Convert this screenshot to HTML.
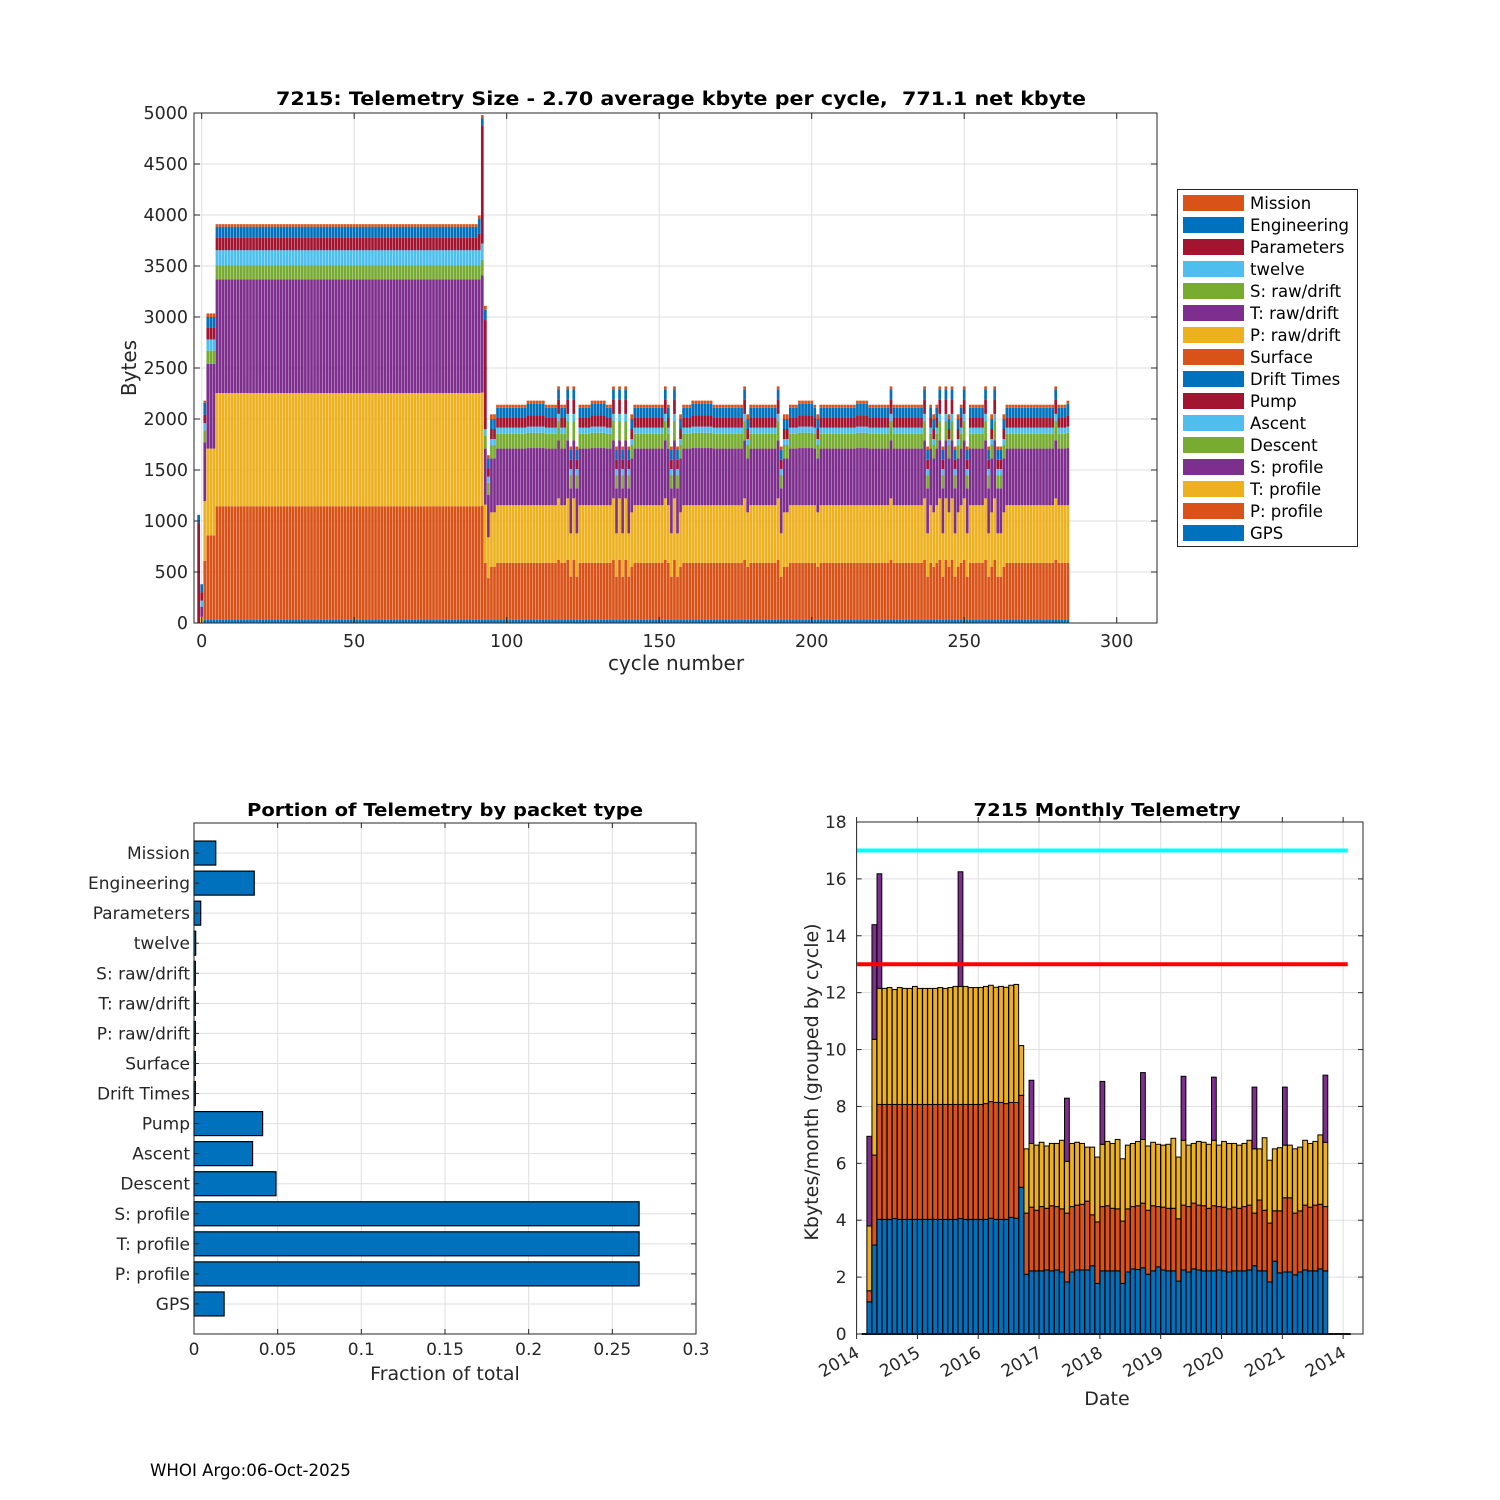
<!DOCTYPE html>
<html><head><meta charset="utf-8"><style>
html,body{margin:0;padding:0;background:#fff;}
svg{display:block;font-family:"DejaVu Sans","Liberation Sans",sans-serif;}
</style></head><body>
<svg id="fig" width="1500" height="1500" viewBox="0 0 1500 1500" xmlns="http://www.w3.org/2000/svg">
<rect x="0" y="0" width="1500" height="1500" fill="#fff"/>
<g id="top"></g>
<g id="legend"></g>
<g id="bl"></g>
<g id="br"></g>
<text x="150" y="1476" font-size="16.6" fill="#000">WHOI Argo:06-Oct-2025</text>
</svg>
<script>
// ---------- top chart data ----------
const kinds = ['A','B','C','E','H','H2','X','Y','Z','N','M','S','D','L'];
const gpsBytes     = [0,0,30,30,30,30,30,30,30,30,30,30,30,30];
const pProfBytes   = [0,0,580,830,1115,1115,1120,560,410,560,560,588,424,522];
const tProfBytes   = [0,60,585,850,1110,1110,1110,570,400,565,565,604,425,533];
const sProfBytes   = [0,100,575,830,1115,1115,1150,550,415,555,560,568,441,529];
const descentBytes = [0,0,120,130,135,135,150,130,120,145,150,190,130,131];
const ascentBytes  = [0,60,70,110,150,150,160,60,60,60,60,70,60,59];
const pumpBytes    = [980,80,80,120,120,160,1160,1070,80,95,110,140,90,98];
const engBytes     = [80,80,120,100,110,150,70,100,100,100,115,100,100,98];
const missionBytes = [0,0,20,35,25,30,30,40,30,30,30,30,30,46];
const firstCycle = -1;
const kindRuns = [['A',1],['B',1],['C',1],['E',3],['H',86],['H2',1],['X',1],['Y',1],['Z',1],['L',2],['N',10],['M',6],['N',4],['S',1],['N',2],['S',1],['D',1],['S',1],['D',1],['N',4],['M',5],['N',2],['S',1],['D',1],['S',1],['D',1],['S',1],['D',1],['L',1],['N',10],['S',1],['N',1],['D',1],['S',1],['D',1],['L',1],['N',3],['M',7],['N',10],['S',1],['L',1],['N',9],['S',1],['D',1],['L',2],['N',3],['M',5],['N',1],['L',1],['N',12],['M',4],['N',7],['S',1],['N',10],['S',1],['D',1],['N',1],['L',1],['N',1],['S',1],['D',1],['S',1],['L',1],['S',1],['D',1],['L',1],['N',1],['S',1],['D',1],['N',5],['S',1],['D',1],['L',1],['S',1],['D',2],['L',1],['N',16],['S',1],['N',3],['M',1]];
const topYTicks = [0,500,1000,1500,2000,2500,3000,3500,4000,4500,5000];
const topXTicks = [0,50,100,150,200,250,300];
const legendLabels = ['Mission','Engineering','Parameters','twelve','S: raw/drift','T: raw/drift','P: raw/drift','Surface','Drift Times','Pump','Ascent','Descent','S: profile','T: profile','P: profile','GPS'];

// ---------- bottom-left data ----------
const portionLabels = ['Mission','Engineering','Parameters','twelve','S: raw/drift','T: raw/drift','P: raw/drift','Surface','Drift Times','Pump','Ascent','Descent','S: profile','T: profile','P: profile','GPS'];
const portionValues = [0.013,0.036,0.004,0.001,0.0008,0.0008,0.0008,0.0008,0.0008,0.041,0.035,0.049,0.266,0.266,0.266,0.018];
const portionTicks = [0,0.05,0.1,0.15,0.2,0.25,0.3];
const portionTickLabels = ['0','0.05','0.1','0.15','0.2','0.25','0.3'];

// ---------- bottom-right data ----------
const firstMonth = 2;
const monthGps = [1.13,3.13,4.03, 4.03,4.03,4.06,4.03,4.03,4.03,4.03,4.03,4.03,4.03,4.03,4.03,4.03,4.03,4.03,4.06,4.03,4.03,4.03,4.03, 4.03,4.07,4.03,4.03,4.03,4.10,4.07, 5.16,
 2.10,2.22,2.22,2.22,2.25,2.22,2.25,2.18,1.83,2.18,2.25,2.25,2.25,2.40,1.78,2.22,2.22,2.22,2.22,1.78,2.18,2.29,2.27,2.33,2.10,2.22,2.36,2.25,2.22,2.22,1.86,2.25,2.18,2.29,2.25,2.22,2.22,2.22,2.25,2.22,2.18,2.22,2.22,2.22,2.25,2.40,2.22,2.22,1.83,2.56,2.15,2.18,2.18,2.08,2.18,2.25,2.22,2.22,2.29,2.22];
const monthP = [0.39,3.16,4.04, 4.04,4.04,4.01,4.04,4.04,4.04,4.04,4.04,4.04,4.04,4.04,4.04,4.04,4.04,4.04,4.01,4.04,4.04,4.04,4.04, 4.07,4.10,4.11,4.11,4.07,4.04,4.07, 3.23,
 2.15,2.24,2.13,2.26,2.17,2.29,2.23,2.22,2.42,2.30,2.28,2.31,2.42,1.79,2.16,2.26,2.29,2.20,2.18,2.19,2.22,2.19,2.24,2.27,2.25,2.29,2.12,2.21,2.20,2.20,2.19,2.28,2.30,2.31,2.28,2.29,2.20,2.29,2.23,2.24,2.22,2.24,2.20,2.26,2.28,1.85,2.49,2.13,2.07,1.77,2.18,2.61,2.61,2.17,2.15,2.28,2.24,2.31,2.27,2.26];
const monthT = [2.28,4.07,4.08, 4.08,4.11,4.04,4.11,4.08,4.08,4.15,4.08,4.08,4.08,4.08,4.11,4.08,4.11,4.15,4.15,4.15,4.11,4.11,4.11, 4.12,4.09,4.05,4.08,4.09,4.12,4.15, 1.75,
 2.26,2.24,2.29,2.26,2.19,2.19,2.22,2.41,1.82,2.22,2.21,2.14,1.90,2.38,2.28,2.19,2.26,2.28,2.44,2.19,2.24,2.22,2.26,2.24,2.26,2.23,2.19,2.18,2.25,2.46,2.17,2.28,2.16,2.10,2.24,2.23,2.25,2.30,2.16,2.31,2.30,2.24,2.22,2.22,2.28,2.26,1.80,2.55,2.21,2.18,2.22,1.85,1.85,2.26,2.24,2.28,2.24,2.24,2.44,2.26];
const monthS = [3.15,4.03,4.03, 0,0,0,0,0,0,0,0,0,0,0,0,0,0,0,4.03,0,0,0,0, 0,0,0,0,0,0,0, 0,
 0,2.22,0,0,0,0,0,0,2.22,0,0,0,0,0,0,2.21,0,0,0,0,0,0,0,2.35,0,0,0,0,0,0,0,2.25,0,0,0,0,0,2.22,0,0,0,0,0,0,0,2.17,0,0,0,0,0,2.04,0,0,0,0,0,0,0,2.36];
const monthYTicks = [0,2,4,6,8,10,12,14,16,18];
const monthXTickMonths = [0,12,24,36,48,60,72,84,96];
const monthXTickLabels = ['2014','2015','2016','2017','2018','2019','2020','2021','2014'];
const limitHigh = 17;
const limitLow = 13;

const NS = 'http://www.w3.org/2000/svg';
function mk(parent, tag, attrs, text){
  const e = document.createElementNS(NS, tag);
  for (const k in attrs) e.setAttribute(k, attrs[k]);
  if (text !== undefined) e.textContent = text;
  parent.appendChild(e);
  return e;
}
const C = {blue:'#0072BD',orange:'#D95319',yellow:'#EDB120',purple:'#7E2F8E',green:'#77AC30',lblue:'#4DBEEE',red:'#A2142F'};
const TXT = '#262626', GRID = '#dfdfdf', AX = '#262626';

// ================= TOP CHART =================
(function(){
  const g = document.getElementById('top');
  const L=194, R=1157, T=113, B=623;
  const xT = c => 201.7 + 3.05*c;
  const yT = b => B - b*(B-T)/5000;
  topYTicks.forEach(v=>{
    const l = mk(g,'line',{x1:L,x2:R,y1:yT(v),y2:yT(v),stroke:GRID,'stroke-width':1});
    
    
  });
  topXTicks.forEach(v=>{
    const l = mk(g,'line',{x1:xT(v),x2:xT(v),y1:T,y2:B,stroke:GRID,'stroke-width':1});
    
    
  });
  const cycKinds = [];
  kindRuns.forEach(r=>{ for(let i=0;i<r[1];i++) cycKinds.push(r[0]); });
  const layers = [[gpsBytes,C.blue,'gps'],[pProfBytes,C.orange,'p-profile'],[tProfBytes,C.yellow,'t-profile'],[sProfBytes,C.purple,'s-profile'],[descentBytes,C.green,'descent'],[ascentBytes,C.lblue,'ascent'],[pumpBytes,C.red,'pump'],[engBytes,C.blue,'engineering'],[missionBytes,C.orange,'mission']];
  const bw = 2.7;
  cycKinds.forEach((k,i)=>{
    const c = firstCycle + i;
    const ki = kinds.indexOf(k);
    let acc = 0;
    layers.forEach(ly=>{
      const v = ly[0][ki];
      if (v<=0) return;
      const y1 = yT(acc+v), y0 = yT(acc);
      const r = mk(g,'rect',{x:xT(c)-bw/2,y:y1,width:bw,height:y0-y1,fill:ly[1]});
      
      
      acc += v;
    });
  });
  mk(g,'rect',{x:L,y:T,width:R-L,height:B-T,fill:'none',stroke:AX,'stroke-width':1});
  topYTicks.forEach(v=>{
    mk(g,'line',{x1:L,x2:L+6,y1:yT(v),y2:yT(v),stroke:AX});
    mk(g,'line',{x1:R,x2:R-6,y1:yT(v),y2:yT(v),stroke:AX});
    const t = mk(g,'text',{x:L-6,y:yT(v)+6,'text-anchor':'end','font-size':17.5,fill:TXT},String(v));
    
    
  });
  topXTicks.forEach(v=>{
    mk(g,'line',{x1:xT(v),x2:xT(v),y1:B,y2:B-6,stroke:AX});
    mk(g,'line',{x1:xT(v),x2:xT(v),y1:T,y2:T+6,stroke:AX});
    const t = mk(g,'text',{x:xT(v),y:B+24,'text-anchor':'middle','font-size':17.5,fill:TXT},String(v));
    
    
  });
  const ti = mk(g,'text',{x:681,y:105,'text-anchor':'middle','font-size':18.5,'font-weight':'bold',fill:'#000',textLength:810,lengthAdjust:'spacingAndGlyphs'},'7215: Telemetry Size - 2.70 average kbyte per cycle,\u00a0 771.1 net kbyte');
  
  
  const xl = mk(g,'text',{x:676,y:670,'text-anchor':'middle','font-size':20,fill:TXT},'cycle number');
  
  
  const yl = mk(g,'text',{x:0,y:0,'text-anchor':'middle','font-size':20,fill:TXT,transform:'translate(136,368) rotate(-90)'},'Bytes');
  
  
})();

// ================= LEGEND =================
(function(){
  const g = document.getElementById('legend');
  mk(g,'rect',{x:1177.5,y:189.5,width:180,height:357,fill:'#fff',stroke:AX,'stroke-width':1});
  const cols = [C.orange,C.blue,C.red,C.lblue,C.green,C.purple,C.yellow,C.orange,C.blue,C.red,C.lblue,C.green,C.purple,C.yellow,C.orange,C.blue];
  legendLabels.forEach((lab,i)=>{
    const y = 203 + 22*i;
    const e = mk(g,'g',{});
    
    
    mk(e,'rect',{x:1183,y:y-8,width:61,height:16,fill:cols[i]});
    mk(e,'text',{x:1250,y:y+6,'font-size':16.5,fill:'#000'},lab);
  });
})();

// ================= BOTTOM LEFT =================
(function(){
  const g = document.getElementById('bl');
  const L=194, R=696, T=823, B=1334;
  const xS = v => L + v*(R-L)/0.3;
  const yS = k => T + (B-T)/17*(k+1);
  portionTicks.forEach(v=>{
    const l = mk(g,'line',{x1:xS(v),x2:xS(v),y1:T,y2:B,stroke:GRID});
    
    
  });
  portionLabels.forEach((lab,k)=>{
    const l = mk(g,'line',{x1:L,x2:R,y1:yS(k),y2:yS(k),stroke:GRID});
    
    
  });
  portionValues.forEach((v,k)=>{
    const h = 24;
    const r = mk(g,'rect',{x:L,y:yS(k)-h/2,width:Math.max(xS(v)-L,0.8),height:h,fill:C.blue,stroke:'#000','stroke-width':1.2});
    
    
  });
  mk(g,'rect',{x:L,y:T,width:R-L,height:B-T,fill:'none',stroke:AX});
  portionLabels.forEach((lab,k)=>{
    mk(g,'line',{x1:L,x2:L+5,y1:yS(k),y2:yS(k),stroke:AX});
    mk(g,'line',{x1:R,x2:R-5,y1:yS(k),y2:yS(k),stroke:AX});
    const t = mk(g,'text',{x:L-4,y:yS(k)+6,'text-anchor':'end','font-size':17,fill:TXT},lab);
    
    
  });
  portionTicks.forEach((v,i)=>{
    mk(g,'line',{x1:xS(v),x2:xS(v),y1:B,y2:B-5,stroke:AX});
    mk(g,'line',{x1:xS(v),x2:xS(v),y1:T,y2:T+5,stroke:AX});
    const t = mk(g,'text',{x:xS(v),y:B+21,'text-anchor':'middle','font-size':17,fill:TXT},portionTickLabels[i]);
    
    
  });
  const ti = mk(g,'text',{x:445,y:816,'text-anchor':'middle','font-size':18,'font-weight':'bold',fill:'#000',textLength:396,lengthAdjust:'spacingAndGlyphs'},'Portion of Telemetry by packet type');
  
  
  const xl = mk(g,'text',{x:445,y:1380,'text-anchor':'middle','font-size':19,fill:TXT},'Fraction of total');
  
  
})();

// ================= BOTTOM RIGHT =================
(function(){
  const g = document.getElementById('br');
  const L=856.6, R=1363, T=822, B=1334;
  const xM = m => 856.6 + 5.068*m;
  const yK = v => B - v*(B-T)/18;
  monthYTicks.forEach(v=>{
    const l = mk(g,'line',{x1:L,x2:R,y1:yK(v),y2:yK(v),stroke:GRID});
    
    
  });
  monthXTickMonths.forEach(m=>{
    const l = mk(g,'line',{x1:xM(m),x2:xM(m),y1:T,y2:B,stroke:GRID});
    
    
  });
  const series = [[monthGps,C.blue,'gps'],[monthP,C.orange,'p'],[monthT,C.yellow,'t'],[monthS,C.purple,'s']];
  monthGps.forEach((_,i)=>{
    const m0 = firstMonth + i;
    let acc = 0;
    series.forEach(s=>{
      const v = s[0][i];
      if (!(v>0)) return;
      const y1 = yK(acc+v), y0 = yK(acc);
      const r = mk(g,'rect',{x:xM(m0+0.03),y:y1,width:xM(0.94)-xM(0),height:y0-y1,fill:s[1],stroke:'#000','stroke-width':1});
      
      
      acc += v;
    });
  });
  const base = mk(g,'line',{x1:xM(1),x2:xM(97.5),y1:B,y2:B,stroke:'#000','stroke-width':2});
  
  
  const hi = mk(g,'line',{x1:xM(0.1),x2:xM(96.9),y1:yK(limitHigh),y2:yK(limitHigh),stroke:'#00FFFF','stroke-width':4});
  
  
  const lo = mk(g,'line',{x1:xM(0.1),x2:xM(96.9),y1:yK(limitLow),y2:yK(limitLow),stroke:'#FF0000','stroke-width':4});
  
  
  mk(g,'rect',{x:L,y:T,width:R-L,height:B-T,fill:'none',stroke:AX});
  monthYTicks.forEach(v=>{
    mk(g,'line',{x1:L,x2:L+5,y1:yK(v),y2:yK(v),stroke:AX});
    mk(g,'line',{x1:R,x2:R-5,y1:yK(v),y2:yK(v),stroke:AX});
    const t = mk(g,'text',{x:L-10,y:yK(v)+6,'text-anchor':'end','font-size':17,fill:TXT},String(v));
    
    
  });
  monthXTickMonths.forEach((m,i)=>{
    mk(g,'line',{x1:xM(m),x2:xM(m),y1:B,y2:B+5,stroke:AX});
    mk(g,'line',{x1:xM(m),x2:xM(m),y1:T,y2:T-5,stroke:AX});
    const t = mk(g,'text',{x:0,y:0,'text-anchor':'end','font-size':17,fill:TXT,transform:'translate('+(xM(m)+4)+','+(B+22)+') rotate(-30)'},monthXTickLabels[i]);
    
    
  });
  const ti = mk(g,'text',{x:1107,y:816,'text-anchor':'middle','font-size':18,'font-weight':'bold',fill:'#000',textLength:267,lengthAdjust:'spacingAndGlyphs'},'7215 Monthly Telemetry');
  
  
  const xl = mk(g,'text',{x:1107,y:1405,'text-anchor':'middle','font-size':19,fill:TXT},'Date');
  
  
  const yl = mk(g,'text',{x:0,y:0,'text-anchor':'middle','font-size':19,fill:TXT,transform:'translate(818,1082) rotate(-90)'},'Kbytes/month (grouped by cycle)');
  
  
})();
</script>
</body></html>
